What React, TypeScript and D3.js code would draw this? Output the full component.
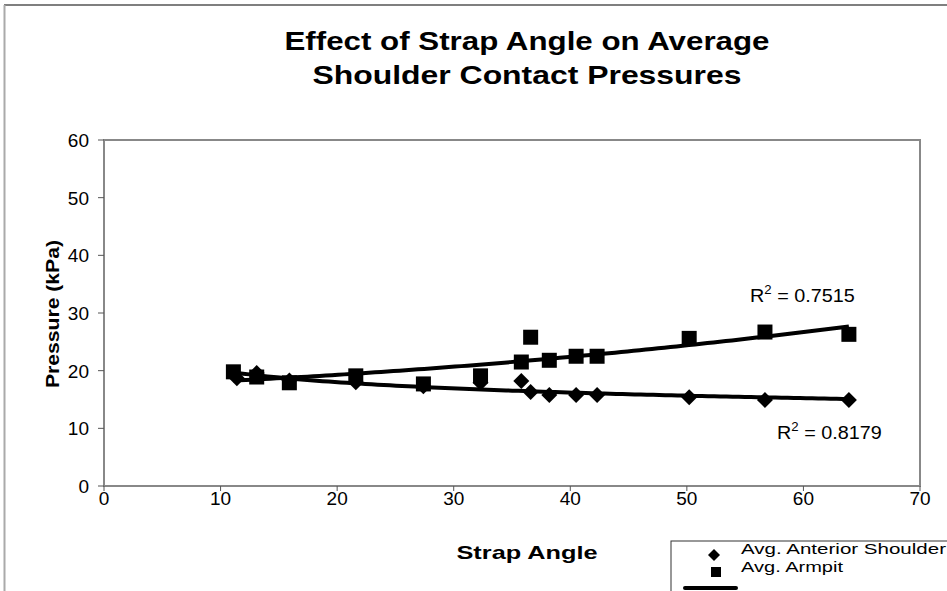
import React from "react";
import * as d3 from "d3";

const armpitX = [11.1, 13.1, 15.9, 21.6, 27.4, 32.3, 35.8, 36.6, 38.2, 40.5, 42.3, 50.2, 56.7, 63.9];
const armpitY = [19.8, 18.9, 17.9, 19.1, 17.7, 19.1, 21.5, 25.8, 21.8, 22.5, 22.5, 25.6, 26.7, 26.3];
const anteriorX = [11.4, 13.1, 15.9, 21.6, 27.4, 32.3, 35.8, 36.6, 38.2, 40.5, 42.3, 50.2, 56.7, 63.9];
const anteriorY = [18.7, 19.6, 18.3, 18.0, 17.3, 17.9, 18.2, 16.3, 15.8, 15.8, 15.8, 15.4, 14.9, 14.9];
const xTicks = [0, 10, 20, 30, 40, 50, 60, 70];
const yTicks = [0, 10, 20, 30, 40, 50, 60];
const r2Armpit = "0.7515";
const r2Anterior = "0.8179";
const titleLines = ["Effect of Strap Angle on Average", "Shoulder Contact Pressures"];
const seriesNames = ["Avg. Anterior Shoulder", "Avg. Armpit"];

function solve3(A: number[][], b: number[]) {
  const M = A.map((r, i) => [...r, b[i]]);
  for (let i = 0; i < 3; i++) {
    let p = i;
    for (let k = i + 1; k < 3; k++) if (Math.abs(M[k][i]) > Math.abs(M[p][i])) p = k;
    [M[i], M[p]] = [M[p], M[i]];
    for (let k = i + 1; k < 3; k++) {
      const f = M[k][i] / M[i][i];
      for (let j = i; j < 4; j++) M[k][j] -= f * M[i][j];
    }
  }
  const x = [0, 0, 0];
  for (let i = 2; i >= 0; i--) {
    let s = M[i][3];
    for (let j = i + 1; j < 3; j++) s -= M[i][j] * x[j];
    x[i] = s / M[i][i];
  }
  return x;
}

function quadFit(xs: number[], ys: number[]) {
  const S = (f: (x: number, y: number) => number) => d3.sum(xs.map((x, i) => f(x, ys[i])));
  const A = [
    [xs.length, S((x) => x), S((x) => x * x)],
    [S((x) => x), S((x) => x * x), S((x) => x ** 3)],
    [S((x) => x * x), S((x) => x ** 3), S((x) => x ** 4)],
  ];
  const b = [S((x, y) => y), S((x, y) => x * y), S((x, y) => x * x * y)];
  const c = solve3(A, b);
  return (x: number) => c[0] + c[1] * x + c[2] * x * x;
}

function powerFit(xs: number[], ys: number[]) {
  const lx = xs.map(Math.log);
  const ly = ys.map(Math.log);
  const mx = d3.mean(lx)!;
  const my = d3.mean(ly)!;
  const bb = d3.sum(lx.map((v, i) => (v - mx) * (ly[i] - my))) / d3.sum(lx.map((v) => (v - mx) ** 2));
  const a = Math.exp(my - bb * mx);
  return (x: number) => a * Math.pow(x, bb);
}

export default function App() {
  const W = 947, H = 591;
  const L = 104, R = 920, T = 140, B = 486;
  const x = d3.scaleLinear().domain([0, 70]).range([L, R]);
  const y = d3.scaleLinear().domain([0, 60]).range([B, T]);
  const font = "'Liberation Sans', Arial, sans-serif";

  const fA = quadFit(armpitX, armpitY);
  const fB = powerFit(anteriorX, anteriorY);
  const span = (xs: number[]) =>
    d3.range(0, 101).map((i) => d3.min(xs)! + (i / 100) * (d3.max(xs)! - d3.min(xs)!));
  const line = d3.line<[number, number]>().x((d) => x(d[0])).y((d) => y(d[1]));
  const pathA = line(span(armpitX).map((v) => [v, fA(v)]))!;
  const pathB = line(span(anteriorX).map((v) => [v, fB(v)]))!;

  const sq = 15;
  const dm = 8;
  const diamond = (cx: number, cy: number, r: number) =>
    `M${cx},${cy - r}L${cx + r},${cy}L${cx},${cy + r}L${cx - r},${cy}Z`;

  return (
    <svg width={W} height={H} style={{ position: "absolute", left: 0, top: 0, background: "#fff" }} fontFamily={font}>
      <rect x={0} y={0} width={W} height={H} fill="#fff" />
      <line x1={4} y1={5} x2={W} y2={5} stroke="#555" strokeWidth={1.5} />
      <line x1={4.5} y1={5} x2={4.5} y2={H} stroke="#aaa" strokeWidth={2} />

      <text x={527} y={50} textAnchor="middle" fontSize={25} fontWeight="bold" fill="#000"
        textLength={485} lengthAdjust="spacingAndGlyphs">
        {titleLines[0]}
      </text>
      <text x={527} y={84} textAnchor="middle" fontSize={25} fontWeight="bold" fill="#000"
        textLength={429} lengthAdjust="spacingAndGlyphs">
        {titleLines[1]}
      </text>

      <rect x={L} y={T} width={R - L} height={B - T} fill="none" stroke="#888" strokeWidth={2} />

      {yTicks.map((t) => (
        <g key={"y" + t}>
          <line x1={L - 6} x2={L} y1={y(t)} y2={y(t)} stroke="#555" strokeWidth={1} />
          <text x={89} y={y(t) + 7} textAnchor="end" fontSize={19} fill="#000">
            {t}
          </text>
        </g>
      ))}
      {xTicks.map((t) => (
        <g key={"x" + t}>
          <line x1={x(t)} x2={x(t)} y1={B} y2={B + 5} stroke="#555" strokeWidth={1} />
          <text x={x(t)} y={505} textAnchor="middle" fontSize={19} fill="#000">
            {t}
          </text>
        </g>
      ))}

      <text x={527} y={559} textAnchor="middle" fontSize={19} fontWeight="bold" fill="#000"
        textLength={141} lengthAdjust="spacingAndGlyphs">
        Strap Angle
      </text>
      <text
        transform={`translate(59,${314}) rotate(-90)`}
        textAnchor="middle"
        fontSize={19}
        fontWeight="bold"
        fill="#000"
        textLength={148}
        lengthAdjust="spacingAndGlyphs"
      >
        Pressure (kPa)
      </text>

      <path d={pathA} fill="none" stroke="#000" strokeWidth={4} />
      <path d={pathB} fill="none" stroke="#000" strokeWidth={4} />

      {anteriorX.map((v, i) => (
        <path key={"d" + i} d={diamond(x(v), y(anteriorY[i]), dm)} fill="#000" />
      ))}
      {armpitX.map((v, i) => (
        <rect key={"s" + i} x={x(v) - sq / 2} y={y(armpitY[i]) - sq / 2} width={sq} height={sq} fill="#000" />
      ))}

      <g transform="translate(750,302) scale(1.1,1)">
        <text x={0} y={0} fontSize={18} fill="#000">
          R<tspan dy={-8} fontSize={12}>2</tspan>
          <tspan dy={8}> = {r2Armpit}</tspan>
        </text>
      </g>
      <g transform="translate(777,439) scale(1.1,1)">
        <text x={0} y={0} fontSize={18} fill="#000">
          R<tspan dy={-8} fontSize={12}>2</tspan>
          <tspan dy={8}> = {r2Anterior}</tspan>
        </text>
      </g>

      <rect x={671} y={541} width={W - 671 + 5} height={H - 541 + 5} fill="#fff" stroke="#333" strokeWidth={1} />
      <path d={diamond(714, 555, 6)} fill="#000" />
      <text x={741} y={554} fontSize={15} fill="#000" textLength={205} lengthAdjust="spacingAndGlyphs">
        {seriesNames[0]}
      </text>
      <rect x={711} y={567} width={10} height={10} fill="#000" />
      <text x={741} y={572} fontSize={15} fill="#000" textLength={102} lengthAdjust="spacingAndGlyphs">
        {seriesNames[1]}
      </text>
      <line x1={685} x2={736} y1={588} y2={588} stroke="#000" strokeWidth={4} strokeLinecap="round" />
    </svg>
  );
}
